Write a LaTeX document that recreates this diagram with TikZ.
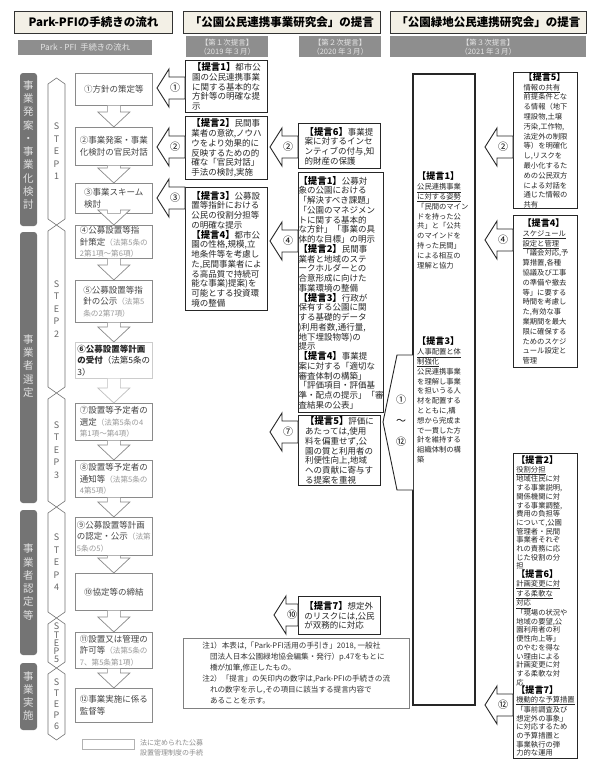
\documentclass[tikz,border=0pt]{standalone}
\usepackage{fontspec}
\setmainfont{Noto Sans CJK JP}
\usetikzlibrary{calc}
\definecolor{hdrfill}{HTML}{F3F0E6}
\definecolor{gbar}{HTML}{8E8E8E}
\definecolor{dbar}{HTML}{747474}
\definecolor{pgray}{HTML}{8A8A8A}
\definecolor{ptext}{HTML}{444444}
\newcommand\tg[1]{{\bfseries\fontsize{9.4}{9.75}\selectfont\color{black}【提言#1】}}
\newcommand\tgb[1]{{\bfseries\fontsize{9.1}{9.8}\selectfont\color{black}【提言#1】}}
\newcommand\lawt[1]{{\color{black!40}\fontsize{7.6}{11}\selectfont #1}}
\newcommand\ul[1]{\underline{#1}}
\begin{document}
\begin{tikzpicture}[x=1pt,y=-1pt,
 hdr/.style={draw=black!80, fill=hdrfill, line width=0.9, minimum height=22, inner sep=0, anchor=north west, font=\bfseries\fontsize{11.5}{12}\selectfont},
 gsub/.style={fill=gbar, text=white!90!black, minimum height=21, inner sep=0, anchor=north west, align=center, font=\fontsize{7.5}{9}\selectfont},
 lbartext/.style={align=center, text=white!88!black, inner sep=0, font=\fontsize{10.5}{13.3}\selectfont},
 pbox/.style={draw=pgray, line width=0.7, fill=white, minimum width=77, inner sep=0, anchor=north west, align=left, text=ptext, font=\fontsize{8.5}{11.5}\selectfont},
 tbox/.style={draw=black!85, line width=1.1, fill=white, minimum width=82, inner sep=0, anchor=north west, align=left, text=black!85, font=\fontsize{8.5}{9.75}\selectfont},
 tbox3/.style={draw=black!85, line width=1.1, fill=white, minimum width=64, inner sep=0, anchor=north west, align=left, text=black!85, font=\fontsize{7.3}{9.8}\selectfont},
 t3text/.style={inner sep=0, anchor=north west, align=left, text=black!85, font=\fontsize{7.3}{9.8}\selectfont},
 darr/.style={draw=pgray, line width=0.7, fill=white},
 barr/.style={draw=black!85, line width=0.9, fill=white},
 numlab/.style={inner sep=0, font=\fontsize{10}{10}\selectfont},
 stepl/.style={draw=black!55, line width=0.6, fill=white},
 steptext/.style={align=center, text=black!60, inner sep=0, font=\fontsize{9}{12.5}\selectfont},
]
\useasboundingbox[fill=white] (0,0) rectangle (598,768);

% ---------- headers
\node[hdr, minimum width=158] (h1) at (14,11) {Park-PFIの手続きの流れ};
\node[hdr, minimum width=197] (h2) at (183,11) {「公園公民連携事業研究会」の提言};
\node[hdr, minimum width=196] (h3) at (390,11) {「公園緑地公民連携研究会」の提言};
\node[gsub, minimum width=134, minimum height=15, font=\fontsize{8.3}{9}\selectfont] (s0) at (18,40) {Park - PFI\ \ 手続きの流れ};
\node[gsub, minimum width=82] (s1) at (186,36) {【第１次提言】\\（2019 年３月）};
\node[gsub, minimum width=82] (s2) at (299,36) {【第２次提言】\\（2020 年３月）};
\node[gsub, minimum width=196] (s3) at (390,36) {【第３次提言】\\（2021 年３月）};

% ---------- left vertical bars
\fill[dbar, rounded corners=3] (20,73) rectangle (37,226);
\node[lbartext] (v1) at (28.5,145) {事\\業\\発\\案\\・\\事\\業\\化\\検\\討};
\fill[dbar, rounded corners=3] (20,232) rectangle (37,503);
\node[lbartext] (v2) at (28.5,366) {事\\業\\者\\選\\定};
\fill[dbar, rounded corners=3] (20,510) rectangle (37,655);
\node[lbartext] (v3) at (28.5,582) {事\\業\\者\\認\\定\\等};
\fill[dbar, rounded corners=3] (20,663) rectangle (37,730);
\node[lbartext] (v4) at (28.5,696) {事\\業\\実\\施};

% ---------- STEP hexagons
\newcommand\stephex[5]{%
 \draw[stepl] (56.5,#1) -- (65,#1+6) -- (65,#2-6) -- (56.5,#2) -- (48,#2-6) -- (48,#1+6) -- cycle;
 \node[steptext, font=\fontsize{9}{#5}\selectfont] (#4) at (56.5,{(#1+#2)/2}) {#3};}
\stephex{78}{225}{S\\T\\E\\P\\1}{st1}{12.5}
\stephex{225}{393}{S\\T\\E\\P\\2}{st2}{12.5}
\stephex{393}{507}{S\\T\\E\\P\\3}{st3}{12.5}
\stephex{507}{618}{S\\T\\E\\P\\4}{st4}{12.5}
\stephex{618}{668}{S\\T\\E\\P\\5}{st5}{8.2}
\stephex{668}{740}{S\\T\\E\\P\\6}{st6}{11}

% ---------- process boxes
\node[pbox, minimum height=32] (b1) at (75,73) {①方針の策定等};
\node[pbox, minimum height=38] (b2) at (75,127) {②事業発案・事業\\化検討の官民対話};
\node[pbox, minimum height=30] (b3) at (75,183) {③事業スキーム\\検討};
\node[pbox, minimum height=33] (b4) at (75,225) {④公募設置等指\\針策定\lawt{（法第5条の}\\\lawt{2第1項〜第6項）}};
\node[pbox, minimum height=42] (b5) at (75,280) {⑤公募設置等指\\針の公示\lawt{（法第5}\\\lawt{条の2第7項）}};
\node[pbox, minimum height=36, draw=black!20, text=black!85] (b6) at (75,342) {\textbf{⑥公募設置等計画}\\\textbf{の受付}（法第5条の\\3）};
\node[pbox, minimum height=37] (b7) at (75,403) {⑦設置等予定者の\\選定\lawt{（法第5条の4}\\\lawt{第1項〜第4項）}};
\node[pbox, minimum height=37] (b8) at (75,460) {⑧設置等予定者の\\通知等\lawt{（法第5条の}\\\lawt{4第5項）}};
\node[pbox, minimum height=38] (b9) at (75,517) {⑨公募設置等計画\\の認定・公示\lawt{（法第}\\\lawt{5条の5）}};
\node[pbox, minimum height=37] (b10) at (75,573) {⑩協定等の締結};
\node[pbox, minimum height=36] (b11) at (75,632) {⑪設置又は管理の\\許可等\lawt{（法第5条の}\\\lawt{7、第5条第1項）}};
\node[pbox, minimum height=34] (b12) at (75,688) {⑫事業実施に係る\\監督等};

% down arrows
\newcommand\downarr[3][]{%
 \draw[darr,#1] ($(#2.south)+(-6.5,0)$) -- ($(#3.north)+(-6.5,-15)$) -- ($(#3.north)+(-16,-15)$) -- (#3.north) -- ($(#3.north)+(16,-15)$) -- ($(#3.north)+(6.5,-15)$) -- ($(#2.south)+(6.5,0)$);}
\downarr{b1}{b2}
\downarr{b2}{b3}
\downarr{b3}{b4}
\downarr{b4}{b5}
\downarr{b5}{b6}
\downarr[draw=black!25]{b6}{b7}
\downarr{b7}{b8}
\downarr{b8}{b9}
\downarr{b9}{b10}
\downarr{b10}{b11}
\downarr{b11}{b12}

% ---------- left block arrows
\newcommand\blkleft[5]{%
 \draw[barr] (#1,#3) -- (#1+12,#3-19) -- (#1+12,#3-11) -- (#2,#3-11) -- (#2,#3+11) -- (#1+12,#3+11) -- (#1+12,#3+19) -- cycle;
 \node[numlab] (#5) at (#1+18,#3) {#4};}

% ---------- column 1 (第1次)
\node[tbox, minimum height=52] (c1a) at (185,60) {\tg{1}都市公\\園の公民連携事業\\に関する基本的な\\方針等の明確な提\\示};
\node[tbox, minimum height=63] (c1b) at (185,116) {\tg{2}民間事\\業者の意欲,ノウハ\\ウをより効果的に\\反映するための的\\確な「官民対話」\\手法の検討,実施};
\node[tbox, minimum height=123] (c1c) at (185,187) {\tg{3}公募設\\置等指針における\\公民の役割分担等\\の明確な提示\\\tg{4}都市公\\園の性格,規模,立\\地条件等を考慮し\\た,民間事業者によ\\る高品質で持続可\\能な事業)提案)を\\可能とする投資環\\境の整備};
\blkleft{157}{185}{88}{①}{a1}
\blkleft{157}{185}{147}{②}{a2}
\blkleft{157}{185}{198}{③}{a3}

% ---------- column 2 (第2次)
\node[tbox, minimum height=45] (c2a) at (298,123) {\tg{6}事業提\\案に対するインセ\\ンティブの付与,知\\的財産の保護};
\node[tbox, minimum height=240] (c2b) at (298,172) {\tg{1}公募対\\象の公園における\\「解決すべき課題」\\「公園のマネジメン\\トに関する基本的\\な方針」「事業の具\\体的な目標」の明示\\\tg{2}民間事\\業者と地域のステ\\ークホルダーとの\\合意形成に向けた\\事業環境の整備\\\tg{3}行政が\\保有する公園に関\\する基礎的データ\\)利用者数,通行量,\\地下埋設物等)の\\提示\\\tg{4}事業提\\案に対する「適切な\\審査体制の構築」\\「評価項目・評価基\\準・配点の提示」「審\\査結果の公表」};
\node[tbox, minimum height=70] (c2c) at (298,415) {\tg{5}評価に\\あたっては,使用\\料を偏重せず,公\\園の質と利用者の\\利便性向上,地域\\への貢献に寄与す\\る提案を重視};
\node[tbox, minimum height=38] (c2d) at (298,596) {\tg{7}想定外\\のリスクには,公民\\が双務的に対応};
\blkleft{270}{298}{147}{②}{a4}
\blkleft{270}{298}{241}{④}{a5}
\blkleft{270}{298}{432}{⑦}{a6}
\blkleft{274}{298}{615}{⑩}{a7}

% ---------- column 3 (第3次)
\draw[black!85, line width=1.1, fill=white] (413,74) rectangle (475,705);
\node[t3text] (t31) at (417,172) {\tgb{1}\\\ul{公民連携事業}\\\ul{に対する姿勢}\\「民間のマイン\\ドを持った公\\共」と「公共\\のマインドを\\持った民間」\\による相互の\\理解と協力};
\node[t3text] (t33) at (417,337) {\tgb{3}\\\ul{人事配置と体}\\\ul{制強化}\\公民連携事業\\を理解し事業\\を担いうる人\\材を配置する\\とともに,構\\想から完成ま\\で一貫した方\\針を維持する\\組織体制の構\\築};
\draw[barr] (413,355) -- (397,355) -- (383,422) -- (397,490) -- (413,490);
\node[numlab, align=center, font=\fontsize{10}{21}\selectfont] (a8) at (401,421) {①\\〜\\⑫};

\node[tbox3, minimum height=135] (c3a) at (513,72) {\tgb{5}\\\ul{情報の共有}\\前提条件とな\\る情報（地下\\埋設物,土壌\\汚染,工作物,\\法定外の制限\\等）を明確化\\し,リスクを\\最小化するた\\めの公民双方\\による対話を\\通じた情報の\\共有};
\node[tbox3, minimum height=152] (c3b) at (513,215) {\tgb{4}\\\ul{スケジュール}\\\ul{設定と管理}\\「議会対応,予\\算措置,各種\\協議及び工事\\の準備や撤去\\等」に要する\\時間を考慮し\\た,有効な事\\業期間を最大\\限に確保する\\ためのスケジ\\ュール設定と\\管理};
\node[tbox3, minimum height=305, font=\fontsize{7.3}{8.7}\selectfont] (c3c) at (513,453) {\tgb{2}\\\ul{役割分担}\\地域住民に対\\する事業説明,\\関係機関に対\\する事業調整,\\費用の負担等\\について,公園\\管理者・民間\\事業者それぞ\\れの責務に応\\じた役割の分\\担\\\tgb{6}\\\ul{計画変更に対}\\\ul{する柔軟な}\\\ul{対応}\\「現場の状況や\\地域の要望,公\\園利用者の利\\便性向上等」\\のやむを得な\\い理由による\\計画変更に対\\する柔軟な対\\応\\\tgb{7}\\\ul{機動的な予算措置}\\「事前調査及び\\想定外の事象」\\に対応するため\\の予算措置と\\事業執行の弾\\力的な運用};
\blkleft{485}{513}{147}{②}{a9}
\blkleft{485}{513}{240}{④}{a10}
\blkleft{485}{513}{705}{⑫}{a11}

% ---------- notes
\node[draw=black!50, line width=0.5, anchor=north west, minimum width=226, minimum height=70, inner sep=4, align=left, text=black!80, font=\fontsize{7.6}{11}\selectfont] (note) at (183,638) {注1）本表は,「Park-PFI活用の手引き」2018, 一般社\\\quad 団法人日本公園緑地協会編集・発行）p.47をもとに\\\quad 橋が加筆,修正したもの。\\注2）「提言」の矢印内の数字は,Park-PFIの手続きの流\\\quad れの数字を示し,その項目に該当する提言内容で\\\quad あることを示す。};

% ---------- legend
\node[draw=black!30, line width=0.6, anchor=north west, minimum width=52, minimum height=10, inner sep=0] (lg) at (82,739) {};
\node[anchor=north west, inner sep=0, align=left, text=black!45, font=\fontsize{7}{10}\selectfont] (lgt) at (140,739) {法に定められた公募\\設置管理制度の手続};
\end{tikzpicture}
\end{document}
